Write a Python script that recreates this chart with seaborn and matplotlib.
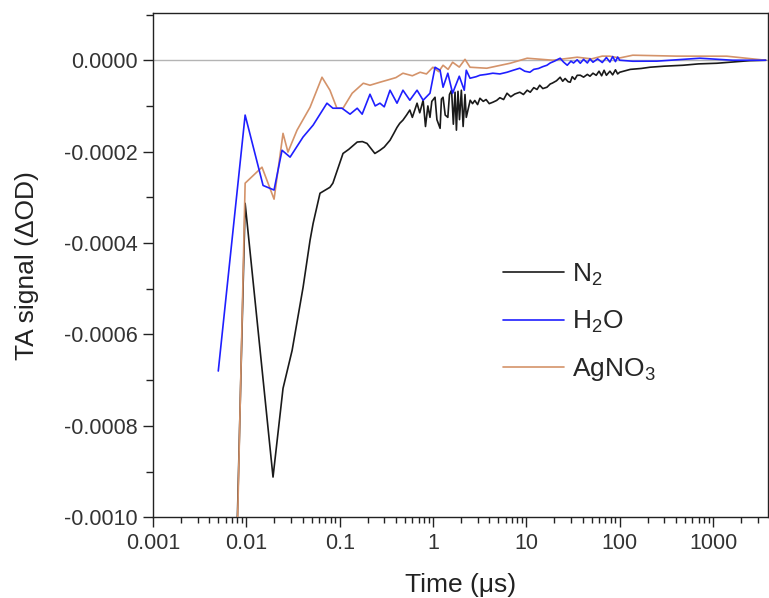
import numpy as np
import pandas as pd
import matplotlib
matplotlib.use("Agg")
import matplotlib.pyplot as plt
import seaborn as sns
from matplotlib.ticker import FixedLocator, FormatStrFormatter, MultipleLocator, LogLocator, NullFormatter

# ---- data (time in microseconds, TA signal in delta OD) ----
n2_time = [0.005, 0.0097, 0.0193, 0.0247, 0.0309, 0.0405, 0.0481, 0.0519, 0.0615, 0.0786,
           0.0845, 0.1085, 0.125, 0.154, 0.175, 0.196, 0.238, 0.270, 0.30, 0.346,
           0.38, 0.411, 0.44, 0.476, 0.52, 0.564, 0.60, 0.674, 0.72, 0.783,
           0.83, 0.88, 0.927, 0.97, 1.05, 1.10, 1.19, 1.23, 1.28, 1.35,
           1.44, 1.50, 1.58, 1.65, 1.72, 1.78, 1.85, 1.92, 2.01, 2.1,
           2.2, 2.27, 2.5, 2.65, 2.8, 3.0, 3.18, 3.45, 3.7, 4.0,
           4.37, 4.8, 5.2, 5.7, 6.2, 6.8, 7.5, 8.5, 9.3, 10.2,
           11, 12, 13, 13.9, 15, 16.6, 18, 19, 21, 23,
           24.5, 26, 28, 29.5, 31, 33, 35, 37.8, 41, 45,
           48, 51.7, 56, 60, 64, 68, 72, 78.5, 84, 90,
           95, 100, 130, 170, 211, 300, 476, 700, 1100, 1600,
           2450, 3660]
n2_signal = [-0.0027, -0.000313, -0.000912, -0.000718, -0.000635, -0.000497, -0.000394, -0.000357, -0.000291, -0.000278,
             -0.000269, -0.000204, -0.000195, -0.000179, -0.000178, -0.000182, -0.000204, -0.000197, -0.000190, -0.000175,
             -0.000160, -0.000147, -0.000138, -0.000131, -0.000120, -0.000109, -0.000125, -0.000094, -0.000115, -0.0000875,
             -0.000145, -0.000100, -0.000125, -0.000090, -0.000081, -0.000130, -0.000149, -0.000085, -0.000081, -0.000120,
             -0.000125, -0.000075, -0.0000656, -0.000140, -0.000070, -0.000153, -0.000068, -0.000130, -0.0000656, -0.000145,
             -0.000075, -0.000125, -0.0000875, -0.000095, -0.000088, -0.000097, -0.0000832, -0.000090, -0.000086, -0.000095,
             -0.0000919, -0.000088, -0.000082, -0.000086, -0.0000722, -0.000080, -0.000074, -0.000070, -0.000075, -0.0000656,
             -0.000070, -0.000060, -0.000064, -0.0000547, -0.000062, -0.0000591, -0.000052, -0.000050, -0.000045, -0.0000372,
             -0.000046, -0.000040, -0.000047, -0.0000481, -0.000036, -0.000042, -0.000033, -0.0000328, -0.000037, -0.000031,
             -0.000035, -0.0000284, -0.000033, -0.000024, -0.000034, -0.000022, -0.000033, -0.000024, -0.000032, -0.000021,
             -0.000030, -0.0000263, -0.000020, -0.000018, -0.0000153, -0.000013, -0.000011, -0.000008, -0.0000066, -0.000004,
             -0.000001, 0.0]

h2o_time = [0.005, 0.0097, 0.0151, 0.0198, 0.0241, 0.0294, 0.0405, 0.0519, 0.0730, 0.0845,
            0.1058, 0.129, 0.154, 0.174, 0.211, 0.24, 0.270, 0.30, 0.346, 0.411,
            0.476, 0.564, 0.674, 0.783, 0.927, 1.05, 1.19, 1.28, 1.44, 1.62,
            1.91, 2.16, 2.27, 2.49, 2.9, 3.18, 3.7, 4.37, 5.2, 6.2,
            7.2, 8.5, 9.6, 10.9, 12, 13.5, 15, 16.6, 18, 20,
            23, 25, 27.4, 30, 32, 35, 37.8, 41, 45, 48,
            51.7, 58, 65, 72, 78.5, 84, 90, 95, 100, 138,
            250, 724, 1620, 3660]
h2o_signal = [-0.00068, -0.000120, -0.000274, -0.000284, -0.000197, -0.000212, -0.000168, -0.000142, -0.000094, -0.000105,
              -0.000105, -0.000118, -0.000105, -0.000118, -0.0000744, -0.000100, -0.000094, -0.000102, -0.0000656, -0.000094,
              -0.0000656, -0.0000875, -0.0000656, -0.0000875, -0.0000722, -0.0000153, -0.0000219, -0.0000591, -0.0000284, -0.0000722,
              -0.000035, -0.0000656, -0.0000219, -0.0000394, -0.000036, -0.0000328, -0.000031, -0.0000284, -0.000030, -0.0000263,
              -0.000022, -0.0000175, -0.000024, -0.0000263, -0.000020, -0.000018, -0.000014, -0.000011, -0.000006, -0.000002,
              0.0000044, -0.000004, -0.000011, -0.000002, -0.000006, 0.000001, -0.0000066, 0.000002, -0.000006, 0.000003,
              -0.0000044, 0.000003, -0.000005, 0.000006, -0.000004, 0.000008, -0.000003, 0.000007, 0.0, -0.0000022,
              -0.000002, 0.0000044, 0.0, 0.0]

agno3_time = [0.005, 0.0097, 0.0147, 0.0198, 0.0247, 0.0279, 0.0349, 0.0481, 0.0646, 0.0786,
              0.0933, 0.1085, 0.136, 0.179, 0.211, 0.270, 0.320, 0.40, 0.476, 0.60,
              0.727, 0.85, 0.997, 1.15, 1.28, 1.45, 1.62, 1.91, 2.2, 2.49,
              3.76, 6.7, 10.2, 19.2, 35, 50, 65, 78.5, 100, 138,
              400, 1405, 3660]
agno3_signal = [-0.0029, -0.000269, -0.000234, -0.000304, -0.000160, -0.000201, -0.000153, -0.000103, -0.0000372, -0.0000656,
                -0.000105, -0.000105, -0.0000722, -0.0000503, -0.0000547, -0.0000481, -0.0000438, -0.000038, -0.0000284, -0.000034,
                -0.0000263, -0.000030, -0.0000153, -0.000025, -0.000011, -0.000020, -0.0000044, -0.000015, 0.000002, -0.0000153,
                -0.0000175, -0.0000066, 0.0000044, 0.0, 0.0000066, 0.000003, 0.000009, 0.0000088, 0.000005, 0.000011,
                0.000009, 0.0000088, 0.0]

series_names = ["N$_2$", "H$_2$O", "AgNO$_3$"]
series_colors = ["#1a1a1a", "#1f1fff", "#d4936a"]
x_tick_values = [0.001, 0.01, 0.1, 1, 10, 100, 1000]
x_tick_labels = ["0.001", "0.01", "0.1", "1", "10", "100", "1000"]

# ---- build long-form table ----
frames = []
for name, t, v in zip(series_names, [n2_time, h2o_time, agno3_time], [n2_signal, h2o_signal, agno3_signal]):
    frames.append(pd.DataFrame({"time": t, "signal": v, "sample": name}))
df = pd.concat(frames, ignore_index=True)

sns.set_style("ticks")
plt.rcParams["font.family"] = ["Liberation Sans", "DejaVu Sans"]
plt.rcParams["mathtext.fontset"] = "custom"
plt.rcParams["mathtext.rm"] = "Liberation Sans"
plt.rcParams["mathtext.it"] = "Liberation Sans"

fig = plt.figure(figsize=(7.69, 5.98), dpi=100)
ax = fig.add_axes([0.199, 0.135, 0.800, 0.843])

ax.axhline(0, color="#b4b4b4", lw=1.0, zorder=1)

palette = dict(zip(series_names, series_colors))
draw_order = [series_names[0], series_names[2], series_names[1]]
for name in draw_order:
    sub = df[df["sample"] == name]
    sns.lineplot(data=sub, x="time", y="signal", color=palette[name], lw=1.2,
                 estimator=None, sort=False, ax=ax, label=name, zorder=3)

ax.set_xscale("log")
ax.set_xlim(0.001, 3900)
ax.set_ylim(-0.001, 0.000103)

ax.xaxis.set_major_locator(FixedLocator(x_tick_values))
ax.set_xticklabels(x_tick_labels)
ax.xaxis.set_minor_locator(LogLocator(base=10, subs=np.arange(2, 10), numticks=20))
ax.xaxis.set_minor_formatter(NullFormatter())
ax.yaxis.set_major_locator(MultipleLocator(0.0002))
ax.yaxis.set_minor_locator(MultipleLocator(0.0001))
ax.yaxis.set_major_formatter(FormatStrFormatter("%.4f"))

ax.tick_params(axis="both", which="major", direction="out", length=7, width=1,
               labelsize=15.5, colors="#222222", labelcolor="#333333", pad=4)
ax.tick_params(axis="both", which="minor", direction="out", length=4, width=1, colors="#222222")
ax.tick_params(axis="y", which="minor", length=5)

for sp in ax.spines.values():
    sp.set_color("#222222")
    sp.set_linewidth(1.0)

ax.set_xlabel("Time (\u03bcs)", fontsize=19, color="#222222", labelpad=14)
ax.set_ylabel("TA signal (\u0394OD)", fontsize=19, color="#222222", labelpad=18)

handles, labels = ax.get_legend_handles_labels()
order = [labels.index(n) for n in series_names]
ax.legend([handles[i] for i in order], [labels[i] for i in order],
          loc="upper left", bbox_to_anchor=(0.569, 0.507), frameon=False,
          fontsize=19, handlelength=2.3, handletextpad=0.3, labelspacing=0.8,
          borderpad=0, borderaxespad=0)

fig.savefig("out.png", dpi=100)
